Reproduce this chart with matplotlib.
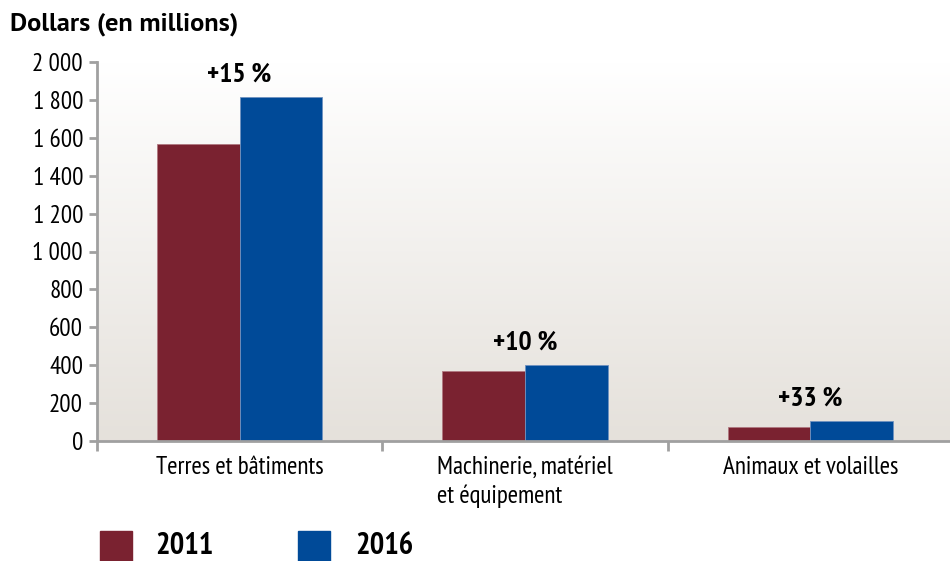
import matplotlib.pyplot as plt
import matplotlib.patches as mpatches
import numpy as np

categories = ["Terres et bâtiments", "Machinerie, matériel\net équipement", "Animaux et volailles"]
values_2011 = [1565, 368, 75]
values_2016 = [1815, 400, 107]
changes = ["+15 %", "+10 %", "+33 %"]
years = ["2011", "2016"]
yticks = [0, 200, 400, 600, 800, 1000, 1200, 1400, 1600, 1800, 2000]

col_2011 = "#7a2230"
col_2016 = "#004a98"
narrow = ["PT Sans Narrow", "DejaVu Sans"]

fig = plt.figure(figsize=(9.5, 5.61), dpi=100)
ax = fig.add_axes([97 / 950, 120 / 561, 856 / 950, 379 / 561])

# soft vertical gradient behind the bars
top = np.array([1.0, 1.0, 1.0])
bot = np.array([0.898, 0.882, 0.859])
t = np.linspace(0, 1, 256)[:, None]
grad = (top * (1 - t) + bot * t)[:, None, :]
ax.imshow(grad, extent=(-0.5, 2.5, 0, 2000), aspect="auto", zorder=0)

x = np.arange(len(categories))
w = 0.29
ax.bar(x - w / 2, values_2011, w, color=col_2011, edgecolor="#b07880", linewidth=0.6, zorder=2)
ax.bar(x + w / 2, values_2016, w, color=col_2016, edgecolor="#6f92c0", linewidth=0.6, zorder=2)

for i, txt in enumerate(changes):
    h = max(values_2011[i], values_2016[i])
    ax.text(x[i], h + 55, txt, ha="center", va="bottom", fontsize=20,
            fontweight="bold", family=narrow)

ax.set_xlim(-0.5, 2.5)
ax.set_ylim(0, 2000)
ax.set_yticks(yticks)
ax.set_yticklabels([f"{v:,}".replace(",", " ") for v in yticks], family=narrow, fontsize=18)

ax.set_xticks([-0.5, 0.5, 1.5, 2.5])
ax.set_xticklabels([])
ax.tick_params(axis="x", length=7, width=2, color="#a0a0a0", direction="out")
ax.tick_params(axis="y", length=6, width=2, color="#a0a0a0", direction="out", pad=4)
for i, lab in enumerate(categories):
    ax.text(x[i], -80, lab, ha="center", va="top", multialignment="left",
            fontsize=18, family=narrow, linespacing=1.3)

for s in ["top", "right"]:
    ax.spines[s].set_visible(False)
for s in ["left", "bottom"]:
    ax.spines[s].set_color("#a0a0a0")
    ax.spines[s].set_linewidth(2)

fig.text(10 / 950, 1 - 24 / 561, "Dollars (en millions)", fontsize=19,
         fontweight="bold", family=["PT Sans", "DejaVu Sans"], va="center", ha="left")

# legend: square swatches with bold year labels
for (sx, tx), yr, col in zip([(100, 155), (298, 355)], years, [col_2011, col_2016]):
    fig.add_artist(mpatches.Rectangle((sx / 950, 1 - 564 / 561), 32 / 950, 33 / 561,
                                      transform=fig.transFigure, color=col))
    fig.text(tx / 950, 1 - 546 / 561, yr, fontsize=22, fontweight="bold",
             family=narrow, va="center", ha="left")

fig.savefig("out.png", dpi=100)
